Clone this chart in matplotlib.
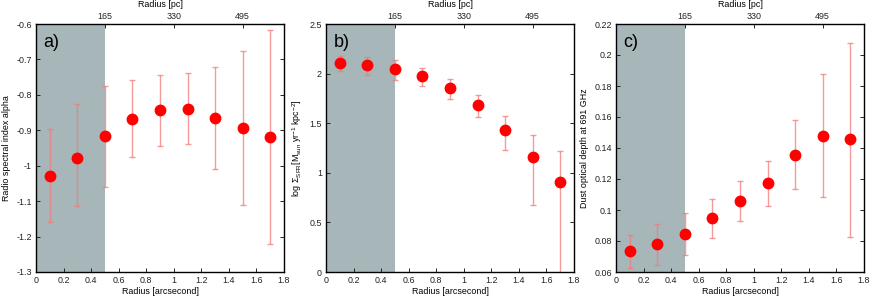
import matplotlib
matplotlib.use("Agg")
from matplotlib import pyplot as plt

plt.rcParams['font.family'] = ['Liberation Sans', 'DejaVu Sans']
plt.rcParams['mathtext.fontset'] = 'custom'
plt.rcParams['mathtext.rm'] = 'Liberation Sans'
plt.rcParams['mathtext.it'] = 'Liberation Sans:italic'
plt.rcParams['mathtext.bf'] = 'Liberation Sans:bold'

radius = [0.1, 0.3, 0.5, 0.7, 0.9, 1.1, 1.3, 1.5, 1.7]

alpha = [-1.028, -0.978, -0.917, -0.868, -0.844, -0.841, -0.866, -0.893, -0.918]
alpha_lo = [-1.158, -1.115, -1.059, -0.975, -0.943, -0.940, -1.010, -1.112, -1.220]
alpha_hi = [-0.895, -0.825, -0.774, -0.758, -0.743, -0.739, -0.721, -0.675, -0.616]

sfr = [2.110, 2.087, 2.043, 1.979, 1.856, 1.687, 1.435, 1.156, 0.904]
sfr_lo = [2.023, 1.983, 1.932, 1.875, 1.744, 1.566, 1.227, 0.675, -0.1]
sfr_hi = [2.180, 2.164, 2.134, 2.060, 1.941, 1.781, 1.569, 1.381, 1.217]

tau = [0.0736, 0.0779, 0.0848, 0.0947, 0.1061, 0.1171, 0.1356, 0.1479, 0.1455]
tau_lo = [0.0628, 0.0647, 0.0712, 0.0822, 0.0930, 0.1029, 0.1134, 0.1085, 0.0828]
tau_hi = [0.0841, 0.0908, 0.0983, 0.1072, 0.1188, 0.1313, 0.1580, 0.1875, 0.2079]

pc_ticks = [0.5, 1.0, 1.5]
pc_labels = ["165", "330", "495"]

panels = [
    ("a)", alpha, alpha_lo, alpha_hi, (-1.3, -0.6),
     [-1.3, -1.2, -1.1, -1.0, -0.9, -0.8, -0.7, -0.6],
     ["-1.3", "-1.2", "-1.1", "-1", "-0.9", "-0.8", "-0.7", "-0.6"],
     "Radio spectral index alpha"),
    ("b)", sfr, sfr_lo, sfr_hi, (0, 2.5),
     [0, 0.5, 1, 1.5, 2, 2.5],
     ["0", "0.5", "1", "1.5", "2", "2.5"],
     r"log $\Sigma_{\rm SFR}$[M$_{\rm sun}$ yr$^{-1}$ kpc$^{-2}$]"),
    ("c)", tau, tau_lo, tau_hi, (0.06, 0.22),
     [0.06, 0.08, 0.1, 0.12, 0.14, 0.16, 0.18, 0.2, 0.22],
     ["0.06", "0.08", "0.1", "0.12", "0.14", "0.16", "0.18", "0.2", "0.22"],
     "Dust optical depth at 691 GHz"),
]

fs = 6.4
lefts = [36 / 872, 326 / 872, 616 / 872]
fig = plt.figure(figsize=(8.72, 2.97), dpi=100)

for left, (tag, y, lo, hi, ylim, yt, ytl, ylab) in zip(lefts, panels):
    ax = fig.add_axes([left, 25 / 297, 248 / 872, 248 / 297])
    ax.axvspan(0, 0.5, color="#a7b6b9", zorder=0, lw=0)
    yerr = [[v - l for v, l in zip(y, lo)], [h - v for v, h in zip(y, hi)]]
    ax.errorbar(radius, y, yerr=yerr, fmt="none", ecolor="#f27a7a", alpha=0.75,
                elinewidth=1.0, capsize=2, capthick=1.0, zorder=2)
    ax.plot(radius, y, "o", color="#ff0000", ms=7.5, mec="#ff0000", zorder=3)
    ax.set_xlim(0, 1.8)
    ax.set_ylim(*ylim)
    ax.set_xticks([0, 0.2, 0.4, 0.6, 0.8, 1.0, 1.2, 1.4, 1.6, 1.8])
    ax.set_xticklabels(["0", "0.2", "0.4", "0.6", "0.8", "1", "1.2", "1.4", "1.6", "1.8"])
    ax.set_yticks(yt)
    ax.set_yticklabels(ytl)
    ax.tick_params(direction="in", labelsize=fs, length=3, width=0.7,
                   right=True, colors="#222222", pad=3)
    ax.set_xlabel("Radius [arcsecond]", fontsize=fs, labelpad=1)
    ax.set_ylabel(ylab, fontsize=fs, labelpad=4)
    for s in ax.spines.values():
        s.set_linewidth(1.0)
        s.set_color("#333333")
    ax.text(0.03, 0.96, tag, transform=ax.transAxes, fontsize=13,
            va="top", ha="left")

    top = ax.twiny()
    top.set_xlim(0, 1.8)
    top.set_xticks(pc_ticks)
    top.set_xticklabels(pc_labels)
    top.tick_params(direction="in", labelsize=fs, length=3, width=0.7,
                    colors="#222222", pad=2)
    top.set_xlabel("Radius [pc]", fontsize=fs, labelpad=4)

plt.savefig("out.png", dpi=100)
